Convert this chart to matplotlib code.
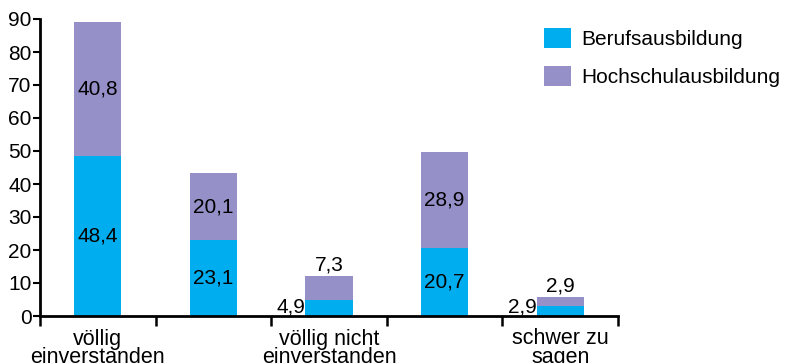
import matplotlib
matplotlib.use("Agg")
import matplotlib.pyplot as plt
import numpy as np

plt.rcParams['font.family'] = ['Liberation Sans', 'DejaVu Sans']

categories = ['völlig\neinverstanden', '', 'völlig nicht\neinverstanden', '', 'schwer zu\nsagen']
beruf = [48.4, 23.1, 4.9, 20.7, 2.9]
hochschule = [40.8, 20.1, 7.3, 28.9, 2.9]
labels_beruf = ['48,4', '23,1', '4,9', '20,7', '2,9']
labels_hoch = ['40,8', '20,1', '7,3', '28,9', '2,9']

c_beruf = '#00aeef'
c_hoch = '#9590c8'

fig = plt.figure(figsize=(7.89, 3.63), dpi=100)
ax = fig.add_axes([40 / 789, 1 - 316 / 363, 578 / 789, 297 / 363])

x = np.arange(len(categories))
w = 0.41
ax.bar(x, beruf, w, color=c_beruf, label='Berufsausbildung')
ax.bar(x, hochschule, w, bottom=beruf, color=c_hoch, label='Hochschulausbildung')

fs = 15
for i in x:
    b, h = beruf[i], hochschule[i]
    if b + h > 20:
        ax.text(i, b / 2, labels_beruf[i], ha='center', va='center', fontsize=fs)
        ax.text(i, b + h / 2, labels_hoch[i], ha='center', va='center', fontsize=fs)
    else:
        # small bars: values beside and above the bar
        ax.text(i - w / 2, 1.0, labels_beruf[i], ha='right', va='baseline', fontsize=fs)
        ax.text(i, b + h + 1.5, labels_hoch[i], ha='center', va='baseline', fontsize=fs)

ax.set_xlim(-0.5, len(categories) - 0.5)
ax.set_ylim(0, 90)
ax.set_yticks(np.arange(0, 91, 10))
ax.tick_params(axis='y', labelsize=fs, length=5, width=1.5, pad=1)

# ticks sit on the category boundaries, labels under the bars
ax.set_xticks(np.arange(-0.5, len(categories), 1.0))
ax.set_xticklabels([])
ax.set_xticks(x, minor=True)
ax.set_xticklabels(categories, minor=True, fontsize=15.5, linespacing=0.82)
ax.tick_params(axis='x', which='major', length=7, width=1.8)
ax.tick_params(axis='x', which='minor', length=0, pad=9)

for s in ['top', 'right']:
    ax.spines[s].set_visible(False)
for s in ['left', 'bottom']:
    ax.spines[s].set_linewidth(2)

fig.legend(loc='upper left', bbox_to_anchor=(525 / 789, 1 - 9 / 363), frameon=False,
           fontsize=15, handlelength=1.3, handleheight=1.15, labelspacing=0.8,
           handletextpad=0.5)

fig.savefig('out.png', dpi=100)
